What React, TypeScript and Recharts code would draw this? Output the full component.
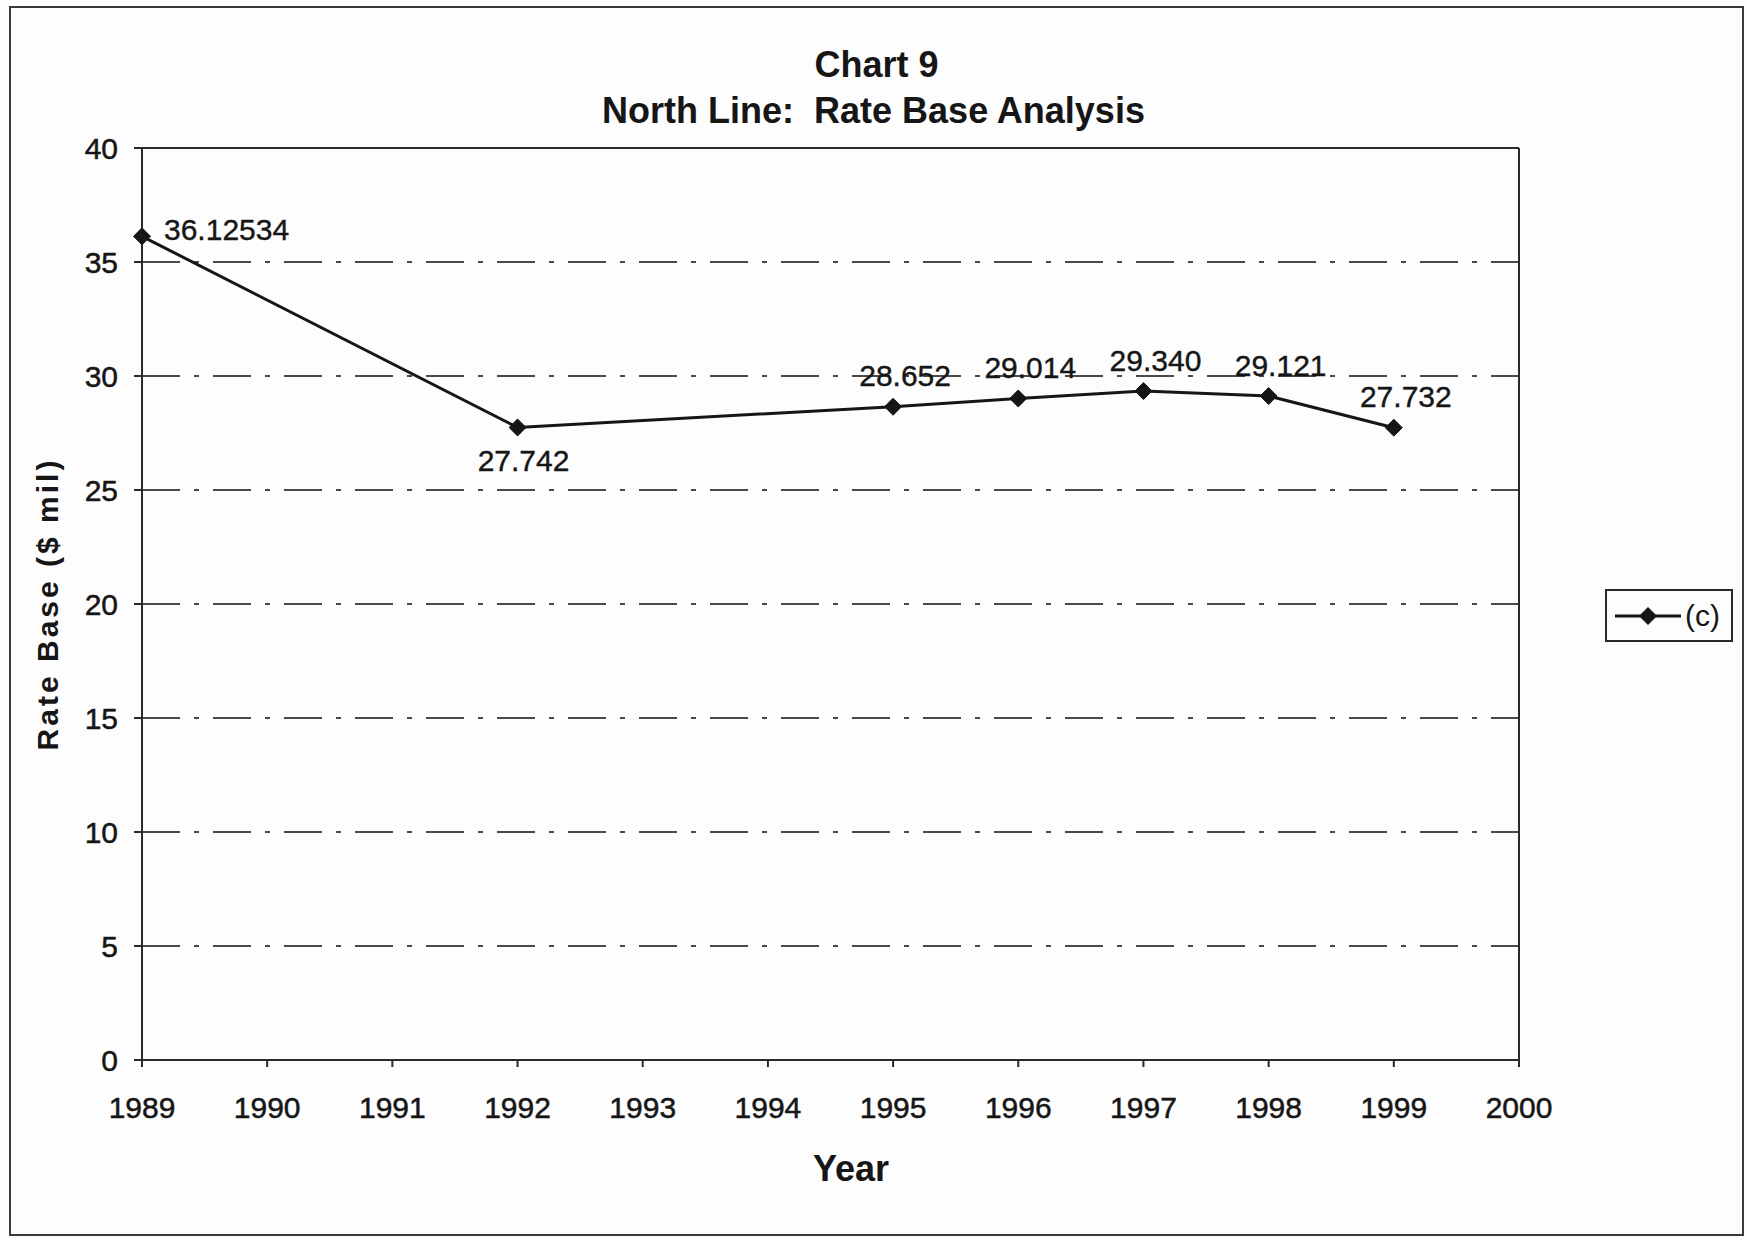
import { CartesianGrid, LabelList, Line, LineChart, ReferenceLine, XAxis, YAxis } from "recharts";

const years = [1989, 1992, 1995, 1996, 1997, 1998, 1999];
const rateBase = [36.12534, 27.742, 28.652, 29.014, 29.34, 29.121, 27.732];
const valueLabels = ["36.12534", "27.742", "28.652", "29.014", "29.340", "29.121", "27.732"];
const yearTicks = [1989, 1990, 1991, 1992, 1993, 1994, 1995, 1996, 1997, 1998, 1999, 2000];
const valueTicks = [0, 5, 10, 15, 20, 25, 30, 35, 40];

const data = years.map((year, i) => ({ year, c: rateBase[i], label: valueLabels[i] }));

const FONT = "'Liberation Sans', Arial, Helvetica, sans-serif";
const INK = "#161616";

function Diamond(props: any) {
  const { cx, cy, index } = props;
  if (cx == null || cy == null) return null;
  const r = 8.5;
  return (
    <path
      key={`d-${index}`}
      d={`M${cx},${cy - r} L${cx + r},${cy} L${cx},${cy + r} L${cx - r},${cy} Z`}
      fill={INK}
      stroke={INK}
      strokeWidth={1}
    />
  );
}

function PointLabel(props: any) {
  const { x, y, value, index } = props;
  let tx = x + 12;
  let ty = y - 31;
  let anchor: "start" | "middle" = "middle";
  if (index === 0) {
    tx = x + 22;
    ty = y - 7;
    anchor = "start";
  } else if (index === 1) {
    tx = x + 6;
    ty = y + 33;
  }
  return (
    <text
      x={tx}
      y={ty}
      textAnchor={anchor}
      dominantBaseline="central"
      fontFamily={FONT}
      fontSize={30}
      fill={INK}
      stroke={INK}
      strokeWidth={0.4}
    >
      {value}
    </text>
  );
}

function YTitle() {
  return (
    <text
      x={47}
      y={604}
      transform="rotate(-90, 47, 604)"
      textAnchor="middle"
      dominantBaseline="central"
      fontFamily={FONT}
      fontWeight="bold"
      fontSize={30}
      letterSpacing={3}
      fill={INK}
    >
      Rate Base ($ mil)
    </text>
  );
}

function XTitle() {
  return (
    <text
      x={851}
      y={1168}
      textAnchor="middle"
      dominantBaseline="central"
      fontFamily={FONT}
      fontWeight="bold"
      fontSize={36}
      fill={INK}
    >
      Year
    </text>
  );
}

const tickStyle = { fill: INK, fontFamily: FONT, fontSize: 30, stroke: INK, strokeWidth: 0.5 };

export default function App() {
  return (
    <div style={{ position: "absolute", left: 0, top: 0, width: 1747, height: 1240, background: "#fdfdfd" }}>
      <div
        style={{
          position: "absolute",
          left: 9,
          top: 6,
          width: 1731,
          height: 1226,
          border: "2px solid #3a3a3a"
        }}
      />
      <div
        style={{
          position: "absolute",
          left: 0,
          width: 1747,
          top: 42,
          textAlign: "center",
          fontFamily: FONT,
          fontWeight: "bold",
          fontSize: 36,
          lineHeight: "46px",
          color: INK
        }}
      >
        <div style={{ marginLeft: 6 }}>Chart 9</div>
        <div>North Line:&nbsp; Rate Base Analysis</div>
      </div>

      <div style={{ position: "absolute", left: 0, top: 0 }}>
        <LineChart width={1747} height={1240} data={data} margin={{ top: 148, right: 228, left: 82, bottom: 120 }}>
          <CartesianGrid
            vertical={false}
            stroke="#4a4a4a"
            strokeWidth={2}
            strokeDasharray="38 14 5 14"
          />
          <XAxis
            dataKey="year"
            type="number"
            domain={[1989, 2000]}
            ticks={yearTicks}
            interval={0}
            height={60}
            axisLine={{ stroke: "#2a2a2a", strokeWidth: 2 }}
            tickLine={{ stroke: "#2a2a2a", strokeWidth: 2 }}
            tickSize={7}
            tickMargin={30}
            tick={tickStyle}
            label={<XTitle />}
          />
          <YAxis
            domain={[0, 40]}
            ticks={valueTicks}
            interval={0}
            width={60}
            axisLine={{ stroke: "#2a2a2a", strokeWidth: 2 }}
            tickLine={{ stroke: "#2a2a2a", strokeWidth: 2 }}
            tickSize={8}
            tickMargin={16}
            tick={tickStyle}
            label={<YTitle />}
          />
          <ReferenceLine y={40} stroke="#2a2a2a" strokeWidth={2} />
          <ReferenceLine x={2000} stroke="#2a2a2a" strokeWidth={2} />
          <Line
            dataKey="c"
            type="linear"
            stroke={INK}
            strokeWidth={3}
            dot={<Diamond />}
            activeDot={false}
            isAnimationActive={false}
          >
            <LabelList dataKey="label" content={<PointLabel />} />
          </Line>
        </LineChart>
      </div>

      <div
        style={{
          position: "absolute",
          left: 1605,
          top: 589,
          width: 124,
          height: 49,
          border: "2px solid #2a2a2a",
          display: "flex",
          alignItems: "center",
          fontFamily: FONT,
          fontSize: 30,
          color: INK
        }}
      >
        <svg width={72} height={30} style={{ marginLeft: 6 }}>
          <line x1={2} y1={15} x2={68} y2={15} stroke={INK} strokeWidth={3} />
          <path d="M35,6 L44,15 L35,24 L26,15 Z" fill={INK} />
        </svg>
        <span>(c)</span>
      </div>
    </div>
  );
}
